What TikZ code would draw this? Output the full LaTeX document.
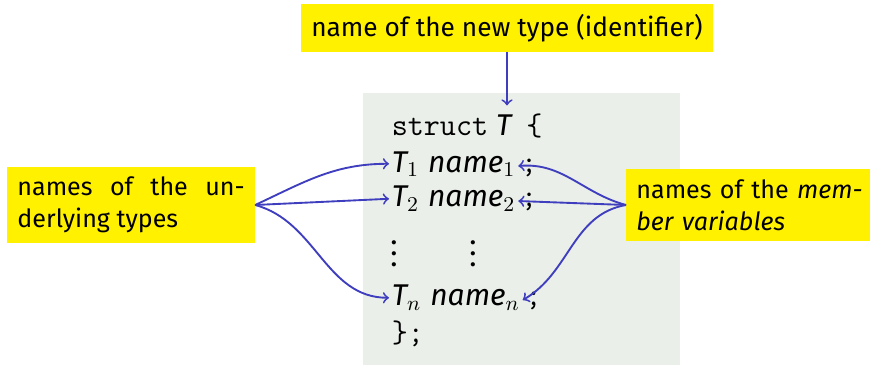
\documentclass[tikz,border=0pt]{standalone}
\usepackage{fontspec}
\setmainfont{Fira Sans}
\usetikzlibrary{positioning}
\definecolor{hlyellow}{RGB}{255,241,0}
\definecolor{codebg}{RGB}{234,239,233}
\definecolor{linkblue}{RGB}{62,62,190}
% three dots without the empty space on top
\newcommand\dotstack{\vbox{\upshape\baselineskip4.8pt\lineskiplimit-3pt
  \hbox{.}\hbox{.}\hbox{.}}}
\begin{document}
\begin{tikzpicture}[x=0.015cm,y=-0.015cm,
  note/.style={fill=hlyellow,inner sep=4.25pt,
    font=\fontsize{10.7}{13.66}\selectfont},
  code/.style={inner sep=1pt,font=\fontsize{12.8}{14}\selectfont\itshape},
  kw/.style={inner sep=1pt,font=\fontsize{13.3}{14}\selectfont\ttfamily},
  link/.style={->,line width=0.8pt,linkblue}]
\useasboundingbox (0,0) rectangle (870,365);
% code background
\fill[codebg] (363,93) rectangle (680,365);

% labels
\node[note,font=\fontsize{11.2}{13.66}\selectfont] (newtype) at (507,28)
  {name of the new type (identifier)};
\node[note,anchor=west,text width=97pt,align=justify] (types) at (7,205)
  {names of the un-\linebreak derlying types};
\node[note,anchor=west,text width=97pt,align=left] (members) at (626,205)
  {names of the \emph{mem-}\\\emph{ber variables}};

% the struct
\node[kw,anchor=base west] (struct) at (389,136) {struct};
\node[code,base right=1pt of struct] (tname) {T};
\node[kw,base right=4pt of tname] (lbrace) {\{};
\node[code,anchor=base west] (t1) at (389,172) {T$_1$};
\node[code,base right=1.4pt of t1] (n1) {name$_1$};
\node[kw,base right=0pt of n1] (s1) {;};
\node[code,anchor=base west] (t2) at (389,207) {T$_2$};
\node[code,base right=1.4pt of t2] (n2) {name$_2$};
\node[kw,base right=0pt of n2] (s2) {;};
\node[code,anchor=base,inner sep=0pt] (vd1) at (394,267) {\dotstack};
\node[code,anchor=base,inner sep=0pt] (vd2) at (473,267) {\dotstack};
\node[code,anchor=base west] (tn) at (389,306) {T$_n$};
\node[code,base right=1.4pt of tn] (nn) {name$_n$};
\node[kw,base right=0pt of nn] (sn) {;};
\node[kw,anchor=base west] (rbrace) at (389,343) {\};};

% arrows
\draw[link,shorten >=3pt] (newtype.south) -- (newtype.south |- tname.north);
\draw[link] (types.east) to[out=25,in=180] (t1.west);
\draw[link] (types.east) -- (t2.west);
\draw[link] (types.east) to[out=-15,in=180] (tn.west);
\draw[link] (members.west) to[out=165,in=5] (n1.east);
\draw[link] (members.west) -- (n2.east);
\draw[link] (members.west) to[out=190,in=30] (nn.east);
\end{tikzpicture}
\end{document}
